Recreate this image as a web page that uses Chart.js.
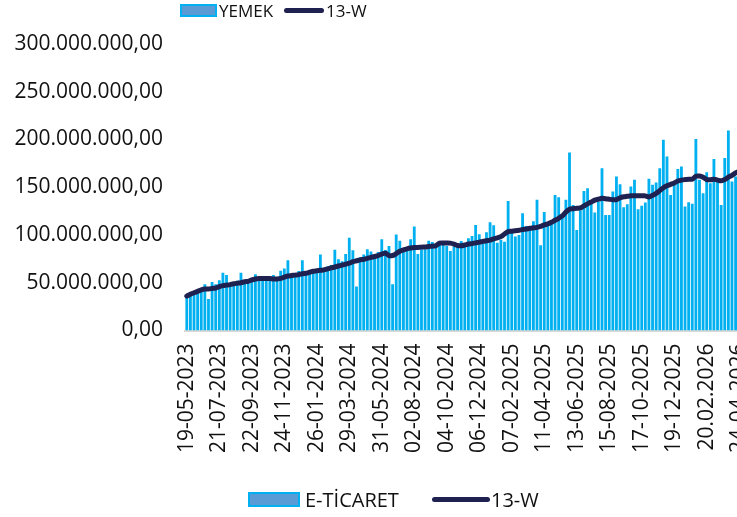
<!DOCTYPE html>
<html>
<head>
<meta charset="utf-8">
<script src="https://cdn.jsdelivr.net/npm/chart.js@4"></script>
<style>
  html, body { margin: 0; padding: 0; background: #fff; overflow: hidden; }
  #wrap { position: relative; width: 737px; height: 517px; overflow: hidden; }
  #chart { position: absolute; left: 0; top: 0; }
  .lg { position: absolute; font-family: 'Open Sans', sans-serif; color: #111; white-space: nowrap; }
  .box { position: absolute; background: #5B9BD5; border: 2px solid #00B0F0; box-sizing: border-box; }
  .ln { position: absolute; background: #1F2150; border-radius: 3px; }
</style>
</head>
<body>
<div id="wrap">
  <canvas id="chart" width="742" height="517"></canvas>

  <!-- top legend -->
  <div class="box" style="left:180px; top:4px; width:37px; height:13px;"></div>
  <div class="lg" style="left:219px; top:-1px; font-size:17px; line-height:24px;">YEMEK</div>
  <div class="ln" style="left:284px; top:8px; width:40px; height:5px;"></div>
  <div class="lg" style="left:326px; top:-1px; font-size:17px; line-height:24px;">13-W</div>

  <!-- bottom legend -->
  <div class="box" style="left:248px; top:492px; width:52px; height:15px;"></div>
  <div class="lg" style="left:305px; top:486px; font-size:20px; line-height:28px;">E-TİCARET</div>
  <div class="ln" style="left:432px; top:497px; width:58px; height:5px;"></div>
  <div class="lg" style="left:491px; top:486px; font-size:20px; line-height:28px;">13-W</div>
</div>

<script>
// weekly series, starting 19-05-2023 (values in TL)
const startDate = Date.UTC(2023, 4, 19);

// tick labels shown every 9 weeks
const tickLabels = [
    '19-05-2023', '21-07-2023', '22-09-2023', '24-11-2023', '26-01-2024', '29-03-2024',
    '31-05-2024', '02-08-2024', '04-10-2024', '06-12-2024', '07-02-2025', '11-04-2025',
    '13-06-2025', '15-08-2025', '17-10-2025', '19-12-2025', '20.02.2026', '24-04-2026'
];

// weekly e-commerce spending, millions
const weeklyValues = [
    34, 37, 40, 42, 44, 48.4, 33, 50.8, 48.5, 52.6,
    60.4, 58.2, 47, 49, 52, 60.6, 50, 51, 53, 59,
    54, 55, 54, 53, 58.2, 53, 62.5, 65, 73.5, 57,
    58, 62.4, 73.5, 59, 61, 62, 63, 79.5, 66, 67,
    68.6, 84.5, 74.6, 72.5, 80, 97, 84, 46, 76.7, 79.5,
    85, 82.6, 78, 82.3, 95.6, 84.4, 88.6, 48.4, 100.4, 94,
    84, 86.5, 95.6, 108.8, 80, 85, 85, 94, 92.8, 88,
    90.7, 89.6, 88.6, 83.3, 88, 90.7, 93.8, 91, 96.6, 99,
    110.6, 100.8, 95.6, 103, 113.4, 110.3, 92, 95, 93, 135.7,
    106, 98.3, 100, 122.8, 109.5, 108, 114.5, 136.8, 89.3, 124.2,
    110.6, 112.4, 142, 139.6, 118.7, 136.8, 186.4, 131.5, 105.3, 126,
    146.2, 149, 134.7, 123.5, 135, 170, 121, 121, 145.5, 161.2,
    153.2, 129, 132.3, 150.7, 157.8, 127, 130.5, 134, 158.8, 152.5,
    155, 170, 199.7, 182.2, 142, 152.5, 169, 171.7, 129.8, 134.4,
    132.6, 200.4, 157.8, 143.8, 165.8, 154.3, 179.5, 156, 131.5, 180.5,
    209.4, 156, 161.2, 165
];

// 13-week moving average, millions
const avg13w = [
    36, 38, 39.5, 41, 42.5, 43.5, 43.5, 44, 44.5, 46,
    47, 47.5, 48, 49, 49.5, 50, 51, 51.5, 53, 54,
    54.5, 54.5, 54.5, 54.5, 54, 54, 54.5, 56, 57, 57.5,
    58, 58.5, 59.5, 60, 61, 62, 62.5, 63, 63.5, 64.5,
    65.5, 66.5, 67.5, 68.5, 69.5, 70.5, 72, 73, 74, 74.5,
    75.5, 76.5, 77.5, 78.5, 80, 81, 78.5, 78.5, 80.5, 83,
    84.4, 85.5, 86.3, 86.8, 87, 87.3, 87.5, 88, 88.3, 88.8,
    91.5, 91.7, 91.7, 91.5, 90.5, 89, 88.7, 89.5, 90.5, 91,
    91.8, 92.5, 93.3, 94, 94.7, 96, 97, 98.3, 101, 103.5,
    104, 104.5, 105, 105.7, 106.3, 107, 107.5, 108, 109, 110.5,
    111.6, 113.3, 115.5, 117.5, 120, 124, 127, 127.5, 128, 128.4,
    130.5, 132.6, 134.5, 136.5, 137.5, 138.6, 138, 137.5, 137, 137,
    139, 140, 140.5, 141, 141, 141, 141, 141, 139.8, 141.5,
    143.5, 146.5, 149.5, 151.5, 153, 154.5, 156.5, 157.5, 158, 158.3,
    158.5, 161.5, 161.8, 160.5, 158, 157.8, 158.5, 157.5, 156.8, 158,
    160.5, 162.5, 165, 167
];

const weekLabels = weeklyValues.map((v, i) => {
    const d = new Date(startDate + i * 7 * 86400000);
    const dd = String(d.getUTCDate()).padStart(2, '0');
    const mm = String(d.getUTCMonth() + 1).padStart(2, '0');
    return `${dd}-${mm}-${d.getUTCFullYear()}`;
});

function formatTR(value) {
    const whole = Math.round(value).toString().replace(/\B(?=(\d{3})+(?!\d))/g, '.');
    return whole + ',00';
}

const M = 1000000;

new Chart(document.getElementById('chart'), {
    type: 'bar',
    data: {
        labels: weekLabels,
        datasets: [{
            type: 'line',
            label: '13-W',
            data: avg13w.map(v => v * M),
            borderColor: '#1F2150',
            borderWidth: 5,
            pointRadius: 0,
            tension: 0.3,
            borderCapStyle: 'round',
            borderJoinStyle: 'round',
            order: 0
        }, {
            label: 'E-TİCARET',
            data: weeklyValues.map(v => v * M),
            backgroundColor: '#00B0F0',
            barPercentage: 0.78,
            categoryPercentage: 1,
            order: 1
        }]
    },
    options: {
        responsive: false,
        animation: false,
        layout: {
            autoPadding: false,
            padding: { top: 44, right: 1, bottom: 0, left: 0 }
        },
        plugins: {
            legend: { display: false },
            tooltip: { enabled: false }
        },
        scales: {
            x: {
                grid: { display: false, drawTicks: false },
                border: { color: '#D9D9D9', width: 2 },
                afterFit: function(scale) {
                    // the last date label is allowed to run off the edge
                    scale.height = 517 - 330.5;
                    scale.paddingLeft = 0;
                    scale.paddingRight = 0;
                },
                ticks: {
                    autoSkip: false,
                    maxRotation: 90,
                    minRotation: 90,
                    padding: 13,
                    color: '#111',
                    font: { family: 'Open Sans', size: 21 },
                    callback: function(value, index) {
                        return index % 9 === 0 ? tickLabels[index / 9] : null;
                    }
                }
            },
            y: {
                min: 0,
                max: 300 * M,
                grid: { display: false, drawTicks: false },
                border: { display: false },
                afterFit: function(scale) {
                    scale.width = 185;
                },
                ticks: {
                    stepSize: 50 * M,
                    padding: 22,
                    color: '#111',
                    font: { family: 'Open Sans', size: 21 },
                    callback: function(value) {
                        return formatTR(value);
                    }
                }
            }
        }
    }
});
</script>
</body>
</html>
